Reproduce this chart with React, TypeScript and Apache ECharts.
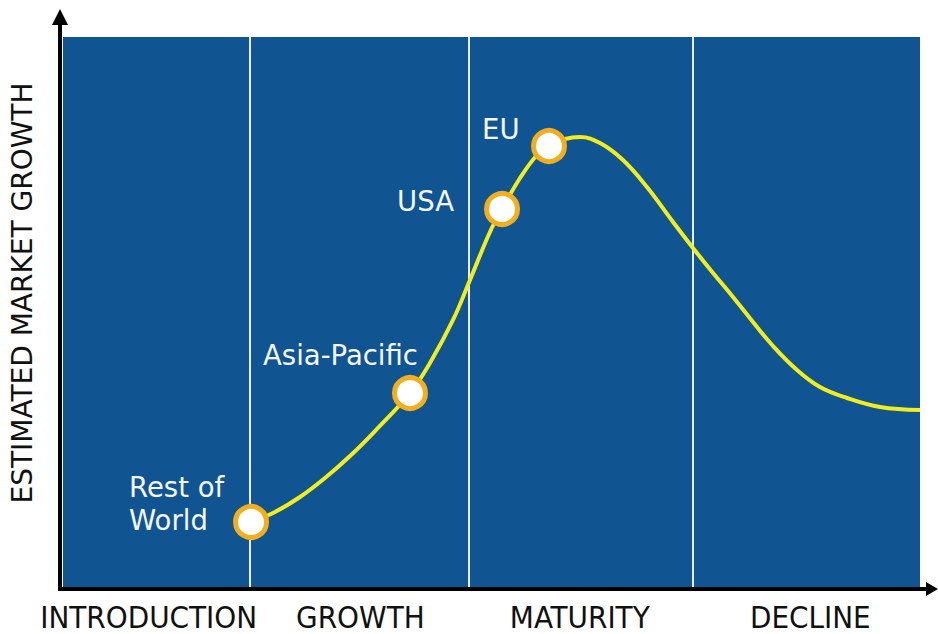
import React, { useEffect, useRef } from "react";
import * as echarts from "echarts";

// Product life-cycle curve (x: 0-100 time scale, y: 0-100 growth scale)
const curveX = [21.94, 24.74, 27.65, 30.57, 33.49, 36.41, 40.49, 42.82, 45.51, 47.49, 49.82, 51.23, 53.33, 55.31, 56.71, 58.58, 60.33, 62.66, 65.34, 68.14, 71.18, 73.51, 75.85, 78.18, 80.51, 82.85, 85.65, 88.33, 91.48, 95.33, 100];
const curveY = [11.82, 13.64, 16.36, 19.82, 23.82, 28.36, 35.27, 40.73, 48.55, 55.82, 64.55, 68.73, 74.36, 78.55, 80.18, 81.45, 81.82, 80.73, 77.64, 72.73, 66.36, 61.64, 57.09, 52.73, 48.18, 43.82, 39.45, 36.36, 34.36, 32.73, 32.18];

const regionNames = ["Rest of\nWorld", "Asia-Pacific", "USA", "EU"];
const regionX = [21.94, 40.49, 51.23, 56.71];
const regionY = [11.82, 35.27, 68.73, 80.18];

const phaseNames = ["INTRODUCTION", "GROWTH", "MATURITY", "DECLINE"];
const phaseLabelX = [10.0, 34.7, 60.3, 87.2];
const phaseBoundaries = [21.8, 47.4, 73.5];

const yTitle = "ESTIMATED MARKET GROWTH";

// label offsets relative to marker box
const labelOffsets = [
  [-104, 0],
  [-129, -20],
  [-87, 10],
  [-49, 1],
];

export default function App() {
  const ref = useRef<HTMLDivElement>(null);
  useEffect(() => {
    if (!ref.current) return;
    const chart = echarts.init(ref.current, null, { renderer: "svg" });
    const white = "#F4F7FA";
    chart.setOption({
      animation: false,
      backgroundColor: "#ffffff",
      grid: {
        left: 63,
        top: 37,
        right: 18,
        bottom: 47,
        show: true,
        backgroundColor: "#115492",
        borderWidth: 0,
      },
      xAxis: {
        type: "value",
        min: 0,
        max: 100,
        axisLine: { show: false },
        axisTick: { show: false },
        splitLine: { show: false },
        axisLabel: {
          customValues: phaseLabelX,
          formatter: (v: number) => {
            const i = phaseLabelX.findIndex((p) => Math.abs(p - v) < 1e-6);
            return i >= 0 ? phaseNames[i] : "";
          },
          fontFamily: "DejaVu Sans Condensed, DejaVu Sans",
          fontSize: 31,
          color: "#111111",
          margin: 15,
          lineHeight: 29,
        },
      },
      yAxis: {
        type: "value",
        min: 0,
        max: 100,
        axisLine: { show: false },
        axisTick: { show: false },
        splitLine: { show: false },
        axisLabel: { show: false },
      },
      graphic: [
        {
          type: "text",
          x: 22,
          y: 293,
          rotation: Math.PI / 2,
          style: {
            text: yTitle,
            fontFamily: "DejaVu Sans",
            fontSize: 28,
            fill: "#111111",
            align: "center",
            verticalAlign: "middle",
          },
        },
        {
          type: "line",
          shape: { x1: 60, y1: 591, x2: 60, y2: 22 },
          style: { stroke: "#000000", lineWidth: 4 },
        },
        {
          type: "polygon",
          shape: { points: [[60, 9], [52, 25], [68, 25]] },
          style: { fill: "#000000" },
        },
        {
          type: "line",
          shape: { x1: 58, y1: 589, x2: 928, y2: 589 },
          style: { stroke: "#000000", lineWidth: 4 },
        },
        {
          type: "polygon",
          shape: { points: [[938, 589], [926, 582], [926, 596]] },
          style: { fill: "#000000" },
        },
      ],
      series: [
        {
          type: "line",
          data: curveX.map((x, i) => [x, curveY[i]]),
          smooth: 0.4,
          showSymbol: false,
          lineStyle: { color: "#F2EE1E", width: 4 },
          z: 3,
          markLine: {
            silent: true,
            symbol: ["none", "none"],
            label: { show: false },
            lineStyle: { color: "#E8EEF5", width: 2, type: "solid" },
            data: phaseBoundaries.map((b) => ({ xAxis: b })),
            z: 2,
          },
        },
        {
          type: "scatter",
          data: regionX.map((x, i) => ({
            value: [x, regionY[i]],
            name: regionNames[i],
            label: {
              show: true,
              position: labelOffsets[i],
              formatter: regionNames[i],
              align: "left",
              verticalAlign: "middle",
              fontFamily: "DejaVu Sans",
              fontSize: 27.5,
              lineHeight: 33,
              color: white,
            },
          })),
          symbol: "circle",
          symbolSize: 31,
          itemStyle: { color: "#ffffff", borderColor: "#F2AE1C", borderWidth: 5, opacity: 1 },
          z: 5,
        },
      ],
    });
    return () => chart.dispose();
  }, []);
  return (
    <div
      ref={ref}
      style={{ position: "fixed", left: 0, top: 0, width: 938, height: 634 }}
    />
  );
}
